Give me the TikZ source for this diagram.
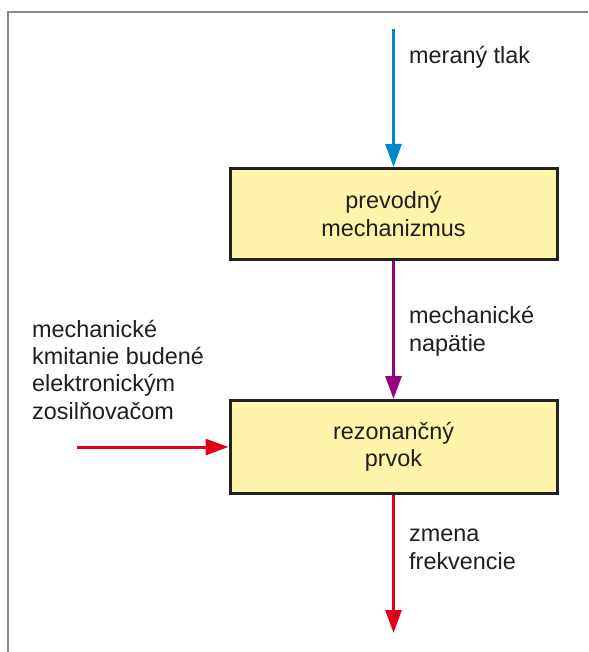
\documentclass[tikz,border=0pt]{standalone}
\usepackage{fontspec}
\setmainfont{Liberation Sans}
\usetikzlibrary{arrows.meta}
\definecolor{arrblue}{RGB}{0,136,204}
\definecolor{arrpurple}{RGB}{150,0,120}
\definecolor{arrred}{RGB}{226,0,26}
\definecolor{boxfill}{RGB}{255,245,170}
\definecolor{boxline}{RGB}{34,34,34}
\definecolor{framegray}{RGB}{136,136,136}
\definecolor{txt}{RGB}{30,30,30}
\begin{document}
\begin{tikzpicture}[x=1pt,y=-1pt,
  every node/.style={font=\fontsize{23.4}{27.3}\selectfont, text=txt},
  blockbox/.style={draw=boxline, fill=boxfill, line width=3pt, minimum width=327pt, align=center, inner sep=0pt},
  flow/.style={line width=3pt, -{Triangle[length=23pt,width=16pt]}},
  lbl/.style={anchor=base west, align=left, inner sep=0pt}]
\useasboundingbox (0,0) rectangle (588,652);
\draw[framegray, line width=2pt] (8,652) -- (8,12) -- (588,12);
\node[blockbox, minimum height=91pt] (b1) at (393.5,214) {prevodný\\mechanizmus};
\node[blockbox, minimum height=93pt] (b2) at (393.5,447) {rezonančný\\prvok};
\coordinate (in1) at (393.5,29);
\coordinate (in2) at (77,447);
\coordinate (out) at (393.5,633);
\draw[flow, arrblue] (in1) -- (b1.north);
\draw[flow, arrpurple] (b1.south) -- (b2.north);
\draw[flow, arrred] (in2) -- (b2.west);
\draw[flow, arrred] (b2.south) -- (out);
\node[lbl] (l1) at (409,64) {meraný tlak};
\node[lbl] (l2) at (409,351) {mechanické\\napätie};
\node[lbl] (l3) at (32,419) {mechanické\\kmitanie budené\\elektronickým\\zosilňovačom};
\node[lbl] (l4) at (409,569) {zmena\\frekvencie};
\end{tikzpicture}
\end{document}
